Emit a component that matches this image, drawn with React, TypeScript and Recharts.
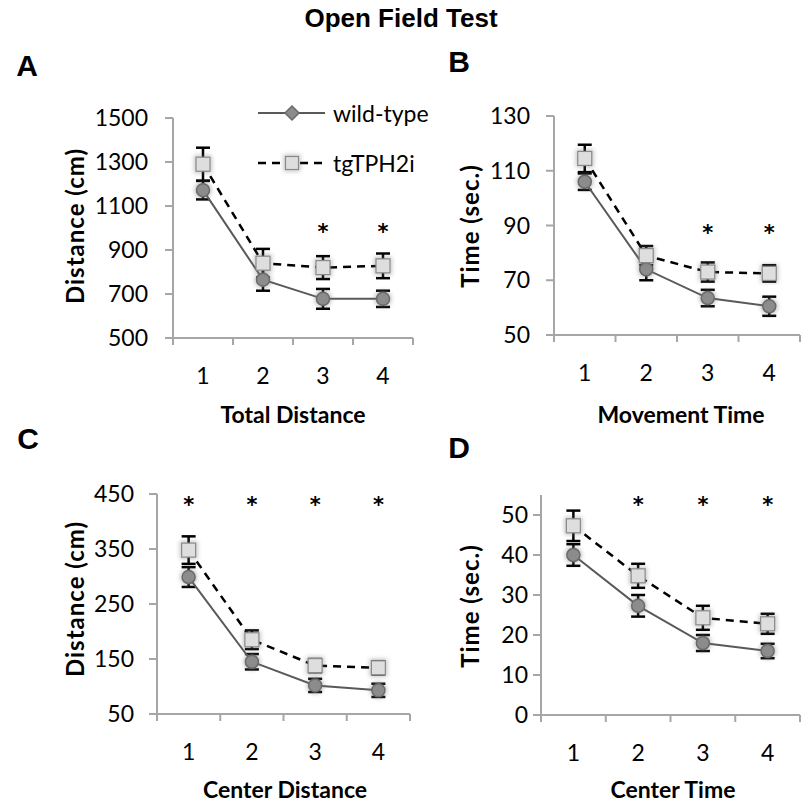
import React from 'react';
import { LineChart, Line, XAxis, YAxis, ErrorBar, ReferenceDot, Legend } from 'recharts';

// ---------- data ----------
const categories = [1, 2, 3, 4];
const seriesNames = ['wild-type', 'tgTPH2i'];

// A: Total Distance (cm)
const totalDistWT = [1172, 765, 678, 678];
const totalDistWTErr = [42, 50, 45, 37];
const totalDistTG = [1290, 840, 820, 828];
const totalDistTGErr = [75, 65, 52, 56];
const totalDistSig = [false, false, true, true];
const totalDistTicks = [500, 700, 900, 1100, 1300, 1500];
const totalDistStar = 982;

// B: Movement Time (sec.)
const moveTimeWT = [106, 74, 63.5, 60.5];
const moveTimeWTErr = [3, 4, 3, 3.5];
const moveTimeTG = [114.5, 79, 73, 72.5];
const moveTimeTGErr = [5, 3.5, 3.5, 3];
const moveTimeSig = [false, false, true, true];
const moveTimeTicks = [50, 70, 90, 110, 130];
const moveTimeStar = 87.6;

// C: Center Distance (cm)
const centerDistWT = [299, 145, 102, 93];
const centerDistWTErr = [18, 14, 12, 12];
const centerDistTG = [348, 185, 138, 134];
const centerDistTGErr = [25, 17, 12, 12];
const centerDistSig = [true, true, true, true];
const centerDistTicks = [50, 150, 250, 350, 450];
const centerDistStar = 430;

// D: Center Time (sec.)
const centerTimeWT = [40, 27.3, 18, 16];
const centerTimeWTErr = [2.7, 2.7, 2, 1.8];
const centerTimeTG = [47.3, 34.8, 24.3, 22.8];
const centerTimeTGErr = [3.8, 3, 3, 2.5];
const centerTimeSig = [false, true, true, true];
const centerTimeTicks = [0, 10, 20, 30, 40, 50];
const centerTimeMax = 55;
const centerTimeStar = 52.5;

// ---------- styles ----------
const AXIS = '#a6a6a6';
const WT_LINE = '#595959';
const TG_LINE = '#000000';
const FONT = 'Lato, "Open Sans", sans-serif';
const HEAD = '"Liberation Sans", Arial, sans-serif';
const STAR_FONT = '"DejaVu Sans", sans-serif';
const TICK_SIZE = 23;

const buildRows = (wt: number[], wtErr: number[], tg: number[], tgErr: number[]) =>
  categories.map((c, i) => ({ cat: c, wt: wt[i], wtErr: wtErr[i], tg: tg[i], tgErr: tgErr[i] }));

const xTicks = [
  ...categories.map((c) => c - 0.5),
  categories[categories.length - 1] + 0.5,
  ...categories,
].sort((a, b) => a - b);

const XTick = (props: any) => {
  const { x, y, payload } = props;
  const v = payload.value;
  if (Number.isInteger(v)) {
    return (
      <text x={x} y={y + 37} textAnchor="middle" dominantBaseline="central" fontSize={TICK_SIZE} fontFamily={FONT} fill="#000">
        {v}
      </text>
    );
  }
  return <line x1={x} y1={y} x2={x} y2={y + 7} stroke={AXIS} strokeWidth={2} />;
};

const WtMarker = ({ cx, cy, size = 6.5 }: any) => (
  <g>
    <circle cx={cx} cy={cy} r={size + 2} fill="#777" opacity={0.45} filter="url(#mk-blur)" />
    <circle cx={cx} cy={cy} r={size} fill="#8c8c8c" stroke="#6a6a6a" strokeWidth={1.5} />
  </g>
);

const TgMarker = ({ cx, cy, size = 7 }: any) => (
  <g>
    <rect x={cx - size - 2} y={cy - size - 2} width={2 * size + 4} height={2 * size + 4} fill="#777" opacity={0.4} filter="url(#mk-blur)" />
    <rect x={cx - size} y={cy - size} width={2 * size} height={2 * size} fill="#dedede" stroke="#8a8a8a" strokeWidth={1.2} />
  </g>
);

const renderWtDot = (p: any) => <WtMarker key={`wt-${p.index}`} cx={p.cx} cy={p.cy} />;
const renderTgDot = (p: any) => <TgMarker key={`tg-${p.index}`} cx={p.cx} cy={p.cy} />;

const renderLegend = (props: any) => {
  const payload = [...(props.payload || [])].sort(
    (a: any, b: any) => seriesNames.indexOf(a.value) - seriesNames.indexOf(b.value)
  );
  return (
    <svg width={190} height={80} style={{ overflow: 'visible' }}>
      {payload.map((entry: any, i: number) => {
        const y = 13 + i * 50;
        const dashed = entry.value === seriesNames[1];
        return (
          <g key={`lg-${entry.value}`}>
            <line x1={0} y1={y} x2={67} y2={y} stroke={dashed ? TG_LINE : WT_LINE} strokeWidth={dashed ? 2.5 : 2} strokeDasharray={dashed ? '8 6' : undefined} />
            {dashed ? (
              <TgMarker cx={34} cy={y} size={6.5} />
            ) : (
              <polygon points={`34,${y - 7} 41,${y} 34,${y + 7} 27,${y}`} fill="#8c8c8c" stroke="#6a6a6a" strokeWidth={1.5} />
            )}
            <text x={75} y={y} dominantBaseline="central" fontSize={TICK_SIZE} fontFamily={FONT} fill="#000">
              {entry.value}
            </text>
          </g>
        );
      })}
    </svg>
  );
};

type PanelProps = {
  left: number; top: number; width: number; height: number;
  plot: { x0: number; x1: number; y0: number; y1: number };
  rows: any[]; yTicks: number[]; yDomain: [number, number];
  sig: boolean[]; star: number; tickMargin: number; legend?: boolean;
};

const AX_W = 1;

const Panel = ({ left, top, width, height, plot, rows, yTicks, yDomain, sig, star, tickMargin, legend }: PanelProps) => {
  const margin = {
    left: plot.x0 - left - AX_W,
    right: left + width - plot.x1,
    top: plot.y0 - top,
    bottom: top + height - plot.y1 - AX_W,
  };
  return (
    <div style={{ position: 'absolute', left, top, width, height }}>
      <LineChart width={width} height={height} data={rows} margin={margin}>
        <XAxis
          type="number"
          dataKey="cat"
          domain={[0.5, 4.5]}
          ticks={xTicks}
          interval={0}
          height={AX_W}
          tickSize={0}
          tickMargin={0}
          tickLine={false}
          axisLine={{ stroke: AXIS, strokeWidth: 2 }}
          tick={<XTick />}
          allowDataOverflow
        />
        <YAxis
          type="number"
          domain={yDomain}
          ticks={yTicks}
          interval={0}
          width={AX_W}
          tickSize={8}
          tickMargin={tickMargin}
          axisLine={{ stroke: AXIS, strokeWidth: 2 }}
          tickLine={{ stroke: AXIS, strokeWidth: 2 }}
          tick={{ fontSize: TICK_SIZE, fontFamily: FONT, fill: '#000' }}
          allowDataOverflow
        />
        <Line type="linear" dataKey="wt" name={seriesNames[0]} stroke={WT_LINE} strokeWidth={2} dot={renderWtDot} activeDot={false} isAnimationActive={false}>
          <ErrorBar dataKey="wtErr" direction="y" width={7} stroke="#000" strokeWidth={2.5} />
        </Line>
        <Line type="linear" dataKey="tg" name={seriesNames[1]} stroke={TG_LINE} strokeWidth={2.5} strokeDasharray="8 6" dot={renderTgDot} activeDot={false} isAnimationActive={false}>
          <ErrorBar dataKey="tgErr" direction="y" width={7} stroke="#000" strokeWidth={2.5} />
        </Line>
        {categories.map((c, i) =>
          sig[i] ? (
            <ReferenceDot
              key={`star-${c}`}
              x={c}
              y={star}
              r={0}
              fill="none"
              stroke="none"
              label={{ value: '*', position: 'center', fontSize: 21, fontWeight: 700, fontFamily: STAR_FONT, fill: '#000' }}
            />
          ) : null
        )}
        {legend ? (
          <Legend
            layout="vertical"
            align="center"
            verticalAlign="middle"
            content={renderLegend}
            wrapperStyle={{ position: 'absolute', left: 258 - left, top: 100 - top, width: 190, height: 80 }}
          />
        ) : null}
      </LineChart>
    </div>
  );
};

const T = ({ x, y, size, bold, family, rotate, spacing, children }: any) => (
  <text
    x={x}
    y={y}
    textAnchor="middle"
    dominantBaseline="central"
    fontSize={size}
    fontWeight={bold ? 700 : 400}
    fontFamily={family}
    letterSpacing={spacing}
    fill="#000"
    transform={rotate ? `rotate(-90 ${x} ${y})` : undefined}
  >
    {children}
  </text>
);

export default function App() {
  return (
    <div style={{ position: 'absolute', left: 0, top: 0, width: 801, height: 805, background: '#fff', overflow: 'hidden' }}>
      <svg width={0} height={0} style={{ position: 'absolute' }}>
        <defs>
          <filter id="mk-blur" x="-50%" y="-50%" width="200%" height="200%">
            <feGaussianBlur stdDeviation={2.2} />
          </filter>
        </defs>
      </svg>
      <Panel
        left={0} top={40} width={420} height={390}
        plot={{ x0: 173, x1: 413, y0: 118, y1: 338 }}
        rows={buildRows(totalDistWT, totalDistWTErr, totalDistTG, totalDistTGErr)}
        yTicks={totalDistTicks} yDomain={[500, 1500]}
        sig={totalDistSig} star={totalDistStar} tickMargin={17} legend
      />
      <Panel
        left={420} top={40} width={381} height={390}
        plot={{ x0: 554, x1: 800, y0: 116, y1: 335 }}
        rows={buildRows(moveTimeWT, moveTimeWTErr, moveTimeTG, moveTimeTGErr)}
        yTicks={moveTimeTicks} yDomain={[50, 130]}
        sig={moveTimeSig} star={moveTimeStar} tickMargin={16}
      />
      <Panel
        left={0} top={430} width={420} height={375}
        plot={{ x0: 157, x1: 410, y0: 494, y1: 714 }}
        rows={buildRows(centerDistWT, centerDistWTErr, centerDistTG, centerDistTGErr)}
        yTicks={centerDistTicks} yDomain={[50, 450]}
        sig={centerDistSig} star={centerDistStar} tickMargin={15}
      />
      <Panel
        left={420} top={430} width={381} height={375}
        plot={{ x0: 541, x1: 800, y0: 495, y1: 715 }}
        rows={buildRows(centerTimeWT, centerTimeWTErr, centerTimeTG, centerTimeTGErr)}
        yTicks={centerTimeTicks} yDomain={[0, centerTimeMax]}
        sig={centerTimeSig} star={centerTimeStar} tickMargin={5}
      />
      <svg width={801} height={805} style={{ position: 'absolute', left: 0, top: 0, pointerEvents: 'none' }}>
        <T x={401} y={18} size={26} bold family={HEAD}>Open Field Test</T>
        <T x={27} y={65} size={30} bold family={HEAD}>A</T>
        <T x={459} y={61} size={30} bold family={HEAD}>B</T>
        <T x={28} y={438} size={30} bold family={HEAD}>C</T>
        <T x={459} y={447} size={30} bold family={HEAD}>D</T>
        <T x={74} y={226} size={24} bold family={FONT} spacing={1} rotate>Distance (cm)</T>
        <T x={469} y={226} size={24} bold family={FONT} spacing={1} rotate>Time (sec.)</T>
        <T x={74} y={599} size={24} bold family={FONT} spacing={1} rotate>Distance (cm)</T>
        <T x={469} y={606} size={24} bold family={FONT} spacing={1} rotate>Time (sec.)</T>
        <T x={293} y={414} size={23} bold family={FONT}>Total Distance</T>
        <T x={681} y={414} size={23} bold family={FONT}>Movement Time</T>
        <T x={285} y={789} size={23} bold family={FONT}>Center Distance</T>
        <T x={673} y={789} size={23} bold family={FONT}>Center Time</T>
      </svg>
    </div>
  );
}
